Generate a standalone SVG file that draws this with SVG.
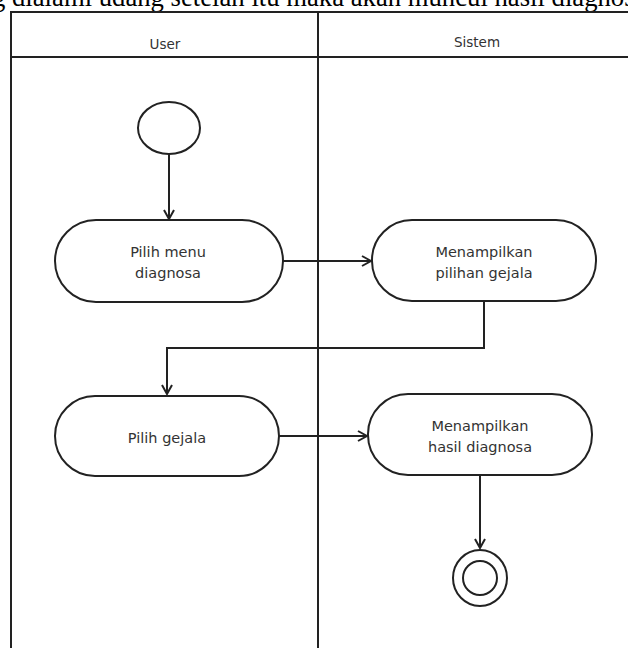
<svg xmlns="http://www.w3.org/2000/svg" width="628" height="648" viewBox="0 0 628 648">
<defs>
<style>
.lane{stroke:#222;stroke-width:2;fill:none}
.node{fill:#fff;stroke:#222;stroke-width:2}
.edge{stroke:#222;stroke-width:2;fill:none;marker-end:url(#arr)}
.lbl{font-family:"DejaVu Sans",Verdana,sans-serif;font-size:14.5px;fill:#333;text-anchor:middle}
.hdr{font-family:"DejaVu Sans",Verdana,sans-serif;font-size:13.5px;fill:#333;text-anchor:middle}
.doc{font-family:"Liberation Serif","Times New Roman",serif;font-size:26.7px;fill:#000}
</style>
<marker id="arr" markerWidth="12" markerHeight="12" refX="10" refY="6" orient="auto" markerUnits="userSpaceOnUse">
<path d="M1,1 L10,6 L1,11" fill="none" stroke="#222" stroke-width="2"/>
</marker>
</defs>
<rect x="0" y="0" width="628" height="648" fill="#fff"/>
<text class="doc" x="-8" y="6">g dialami udang setelah itu maka akan muncul hasil diagnosa</text>
<g id="pool">
<path class="lane" d="M11,648 V12 H628 M11,57 H628 M318,12 V648"/>
<text class="hdr" x="165" y="49">User</text>
<text class="hdr" x="477" y="47">Sistem</text>
</g>
<g id="connectors">
<path class="edge" d="M169,154 V219"/>
<path class="edge" d="M283,261 H371"/>
<path class="edge" d="M484,301 V348 H167 V394"/>
<path class="edge" d="M279,436 H367"/>
<path class="edge" d="M480,475 V548"/>
</g>
<g id="start"><ellipse class="node" cx="169" cy="128" rx="31" ry="26"/></g>
<g id="n1">
<rect class="node" x="55" y="220" width="228" height="82" rx="41"/>
<text class="lbl" x="168" y="257">Pilih menu</text>
<text class="lbl" x="168" y="278">diagnosa</text>
</g>
<g id="n2">
<rect class="node" x="372" y="220" width="224" height="81" rx="40"/>
<text class="lbl" x="484" y="257">Menampilkan</text>
<text class="lbl" x="484" y="278">pilihan gejala</text>
</g>
<g id="n3">
<rect class="node" x="55" y="396" width="224" height="80" rx="40"/>
<text class="lbl" x="167" y="443">Pilih gejala</text>
</g>
<g id="n4">
<rect class="node" x="368" y="394" width="224" height="81" rx="40"/>
<text class="lbl" x="480" y="431">Menampilkan</text>
<text class="lbl" x="480" y="452">hasil diagnosa</text>
</g>
<g id="end">
<ellipse class="node" cx="480" cy="578" rx="27" ry="28"/>
<ellipse class="node" cx="480" cy="578" rx="17" ry="17"/>
</g>
</svg>
